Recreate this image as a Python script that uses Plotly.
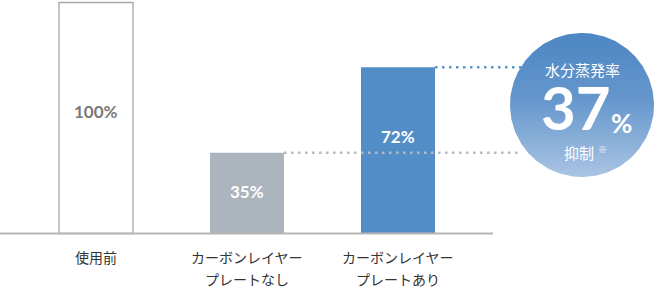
import numpy as np
import plotly.graph_objects as go

# ---- data ----
categories = ["使用前", "カーボンレイヤー\nプレートなし", "カーボンレイヤー\nプレートあり"]
values = [100, 35, 72]
value_labels = ["100%", "35%", "72%"]
badge_title = "水分蒸発率"
badge_value = "37"
badge_unit = "%"
badge_sub = "抑制"
badge_note = "※"

# ---- style / layout constants ----
W, H = 657, 290
bar_colors = ["#ffffff", "#acb4bd", "#528dc7"]
bar_line_colors = ["#a9a9a9", "#acb4bd", "#528dc7"]
bar_line_widths = [1.3, 0, 0]
label_colors = ["#7a7a7a", "#ffffff", "#ffffff"]
label_frac = [0.53, 0.525, 0.585]
CJK = "Noto Sans CJK JP"
NUM = "Lato"

# pixel geometry of the main scale
x0_px, step_px = 96, 151
base_px, top_px = 233.5, 2.5
ppu = (base_px - top_px) / 100.0
x_range = [-x0_px / step_px, (W - x0_px) / step_px]
y_range = [-(H - base_px) / ppu, base_px / ppu]

def px_to_x(px):
    return (px - x0_px) / step_px

xs = list(range(len(categories)))
bar_w = 74 / step_px

fig = go.Figure()

fig.add_trace(go.Bar(
    x=xs, y=values, width=bar_w,
    marker=dict(color=bar_colors, line=dict(color=bar_line_colors, width=bar_line_widths)),
    hoverinfo="skip", showlegend=False,
))

# badge circle on a pixel overlay axis
cx, cy, r = 582, 105, 72
t = np.linspace(0, 2 * np.pi, 241)
fig.add_trace(go.Scatter(
    x=cx + r * np.cos(t), y=cy + r * np.sin(t),
    xaxis="x2", yaxis="y2", mode="lines", line=dict(width=0),
    fill="toself",
    fillgradient=dict(type="vertical", start=cy - r, stop=cy + r,
                      colorscale=[[0, "#4d86c2"], [0.45, "#6496cc"], [1, "#aac4e3"]]),
    hoverinfo="skip", showlegend=False,
))

shapes = []
# baseline
shapes.append(dict(type="line", xref="x", yref="y", x0=x_range[0], x1=px_to_x(493), y0=0, y1=0,
                   line=dict(color="#b5b5b5", width=2)))
# dotted guide lines
shapes.append(dict(type="line", xref="x", yref="y", x0=xs[1] + bar_w / 2, x1=px_to_x(522),
                   y0=values[1], y1=values[1],
                   line=dict(color="#b3bac2", width=2.5, dash="2.5px,4.5px")))
shapes.append(dict(type="line", xref="x", yref="y", x0=xs[2] + bar_w / 2, x1=px_to_x(522),
                   y0=values[2], y1=values[2],
                   line=dict(color="#5f93cb", width=2.5, dash="2.5px,4.5px")))

annotations = []
for i, (v, lab) in enumerate(zip(values, value_labels)):
    annotations.append(dict(x=xs[i], y=v * label_frac[i], xref="x", yref="y", text=lab,
                            showarrow=False, font=dict(family=NUM, size=17, color=label_colors[i], weight="bold")))

for i, cat in enumerate(categories):
    for j, line in enumerate(cat.split("\n")):
        annotations.append(dict(x=xs[i], y=1 - (257 + 22 * j) / H, xref="x", yref="paper",
                                text=line, showarrow=False, yanchor="middle",
                                font=dict(family=CJK, size=14, color="#333333")))

annotations += [
    dict(x=582.5, y=69, xref="x2", yref="y2", text=badge_title, showarrow=False, borderpad=0,
         font=dict(family=CJK, size=15, color="#ffffff")),
    dict(x=576, y=106.5, xref="x2", yref="y2", text=badge_value, showarrow=False,
         height=52, valign="middle", borderpad=0,
         font=dict(family=NUM, size=60, color="#ffffff", weight="bold")),
    dict(x=621, y=122.5, xref="x2", yref="y2", text=badge_unit, showarrow=False,
         font=dict(family=NUM, size=26, color="#ffffff", weight="bold")),
    dict(x=579, y=152, xref="x2", yref="y2", text=badge_sub, showarrow=False,
         font=dict(family=CJK, size=15, color="#ffffff")),
    dict(x=602, y=149.5, xref="x2", yref="y2", text=badge_note, showarrow=False,
         font=dict(family=CJK, size=9, color="#ffffff")),
]

fig.update_layout(
    width=W, height=H,
    margin=dict(l=0, r=0, t=0, b=0),
    paper_bgcolor="#ffffff", plot_bgcolor="rgba(0,0,0,0)",
    xaxis=dict(range=x_range, domain=[0, 1], visible=False, fixedrange=True),
    yaxis=dict(range=y_range, domain=[0, 1], visible=False, fixedrange=True),
    xaxis2=dict(range=[0, W], domain=[0, 1], visible=False, overlaying="x", fixedrange=True),
    yaxis2=dict(range=[H, 0], domain=[0, 1], visible=False, overlaying="y", fixedrange=True),
    shapes=shapes,
    annotations=annotations,
    showlegend=False,
)

fig.write_html("out.html")
